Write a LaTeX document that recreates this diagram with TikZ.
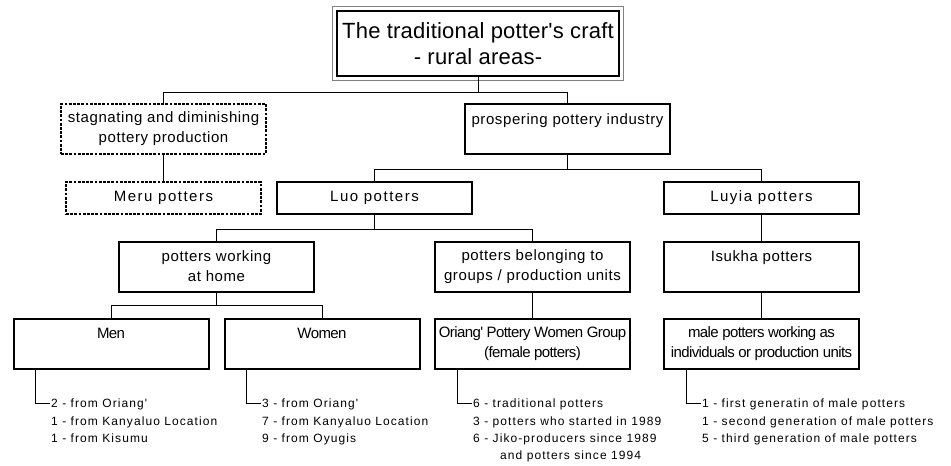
\documentclass[tikz,border=0pt]{standalone}
\usepackage{fontspec}
\setmainfont{Liberation Sans}
\newfontfamily\titlefont[LetterSpace=1]{Liberation Sans}
\newfontfamily\boxfont[LetterSpace=4]{Liberation Sans}
\newfontfamily\widefont[LetterSpace=10]{Liberation Sans}
\newfontfamily\narrowfont[LetterSpace=-4]{Liberation Sans}
\newfontfamily\listfont[LetterSpace=9]{Liberation Sans}

\tikzset{
  box/.style={draw, line width=2pt, inner sep=0pt, minimum width=195pt,
    minimum height=50pt, align=center,
    font=\boxfont\fontsize{15pt}{20pt}\selectfont},
  shortbox/.style={box, minimum height=32pt,
    font=\widefont\fontsize{15pt}{20pt}\selectfont},
  narrowbox/.style={box, font=\narrowfont\fontsize{15pt}{20pt}\selectfont},
  dashbox/.style={dash pattern=on 2.8pt off 1.4pt},
  titlebox/.style={draw, line width=2pt, inner sep=0pt, minimum width=282pt,
    minimum height=65pt, align=center,
    font=\titlefont\fontsize{22pt}{26pt}\selectfont},
  countlist/.style={anchor=north west, inner sep=0pt, align=left,
    font=\listfont\fontsize{12pt}{17.3pt}\selectfont},
  link/.style={line width=1pt}
}

\begin{document}
\begin{tikzpicture}[x=1pt, y=1pt]
  \useasboundingbox (0,0) rectangle (951,-466);

  % top of the tree
  \node[titlebox] (craft) at (478,-43.5) {The traditional potter's craft\\- rural areas-};
  \draw[gray, line width=1pt] ([shift={(-3.5,3.5)}]craft.north west) rectangle ([shift={(3.5,-3.5)}]craft.south east);

  \node[box, dashbox, minimum width=205pt] (stagnant) at (163.5,-129) {stagnating and diminishing\\pottery production};
  \node[box, minimum width=205pt] (prosper) at (567.5,-129) {prospering pottery industry\\\mbox{}};

  \node[shortbox, dashbox] (meru) at (163.5,-198) {Meru potters};
  \node[shortbox] (luo) at (374.5,-198) {Luo potters};
  \node[shortbox] (luyia) at (761.5,-198) {Luyia potters};

  \node[box] (home) at (216.5,-266.5) {potters working\\at home};
  \node[box] (groups) at (532.5,-266.5) {potters belonging to\\groups / production units};
  \node[box] (isukha) at (761.5,-266.5) {Isukha potters\\\mbox{}};

  \node[narrowbox] (men) at (111,-343.5) {Men\\\mbox{}};
  \node[narrowbox] (women) at (322,-343.5) {Women\\\mbox{}};
  \node[narrowbox] (oriang) at (532.5,-343.5) {Oriang' Pottery Women Group\\(female potters)};
  \node[narrowbox] (male) at (761.5,-343.5) {male potters working as\\individuals or production units};

  % counts
  \node[countlist] (menlist) at (51,-398.7) {\rule{0pt}{9pt}2 - from Oriang'\\1 - from Kanyaluo Location\\1 - from Kisumu};
  \node[countlist] (womenlist) at (262,-398.7) {\rule{0pt}{9pt}3 - from Oriang'\\7 - from Kanyaluo Location\\9 - from Oyugis};
  \node[countlist] (orianglist) at (473,-398.7) {\rule{0pt}{9pt}6 - traditional potters\\3 - potters who started in 1989\\6 - Jiko-producers since 1989\\\hspace*{27pt}and potters since 1994};
  \node[countlist] (malelist) at (702,-398.7) {\rule{0pt}{9pt}1 - first generatin of male potters\\1 - second generation of male potters\\5 - third generation of male potters};

  % connectors
  \draw[link] (craft.south) -- ++(0,-15) -| (stagnant.north);
  \draw[link] (craft.south) ++(0,-15) -| (prosper.north);
  \draw[link] (stagnant) -- (meru);
  \draw[link] (prosper.south) -- ++(0,-14) -| (luo.north);
  \draw[link] (prosper.south) ++(0,-14) -| (luyia.north);
  \draw[link] (luo.south) -- ++(0,-14) -| (home.north);
  \draw[link] (luo.south) ++(0,-14) -| (groups.north);
  \draw[link] (luyia) -- (isukha);
  \draw[link] (home.south) -- ++(0,-12.5) -| (men.north);
  \draw[link] (home.south) ++(0,-12.5) -| (women.north);
  \draw[link] (groups) -- (oriang);
  \draw[link] (isukha) -- (male);

  \draw[link] ([xshift=23pt]men.south west) |- ([xshift=-1pt,yshift=-4.3pt]menlist.north west);
  \draw[link] ([xshift=23pt]women.south west) |- ([xshift=-1pt,yshift=-4.3pt]womenlist.north west);
  \draw[link] ([xshift=23pt]oriang.south west) |- ([xshift=-1pt,yshift=-4.3pt]orianglist.north west);
  \draw[link] ([xshift=23pt]male.south west) |- ([xshift=-1pt,yshift=-4.3pt]malelist.north west);
\end{tikzpicture}
\end{document}
